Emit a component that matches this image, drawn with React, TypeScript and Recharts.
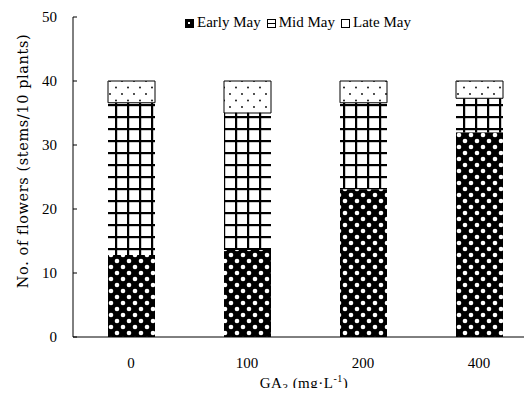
import React from "react";
import { Bar, BarChart, XAxis, YAxis } from "recharts";

const doses = ["0", "100", "200", "400"];
const earlyMay = [12.8, 13.6, 23.1, 32.0];
const midMay = [23.8, 21.4, 13.5, 5.3];
const lateMay = [3.4, 5.0, 3.4, 2.7];
const yTicks = [0, 10, 20, 30, 40, 50];

const data = doses.map((d, i) => ({ dose: d, early: earlyMay[i], mid: midMay[i], late: lateMay[i] }));

const serif = "'Liberation Serif', 'DejaVu Serif', serif";

function YLabel() {
  return (
    <text x={23} y={161} transform="rotate(-90 23 161)" textAnchor="middle" dominantBaseline="central" fontFamily="'DejaVu Serif', serif" fontSize={14.5} fill="#000" letterSpacing={0.6}>
      No. of flowers (stems/10 plants)
    </text>
  );
}

function XLabel() {
  return (
    <text x={304} y={388} textAnchor="middle" fontFamily={serif} fontSize={15} fill="#000" letterSpacing={0.5}>
      GA
      <tspan fontSize={11} dy={3}>3</tspan>
      <tspan dy={-3}> (mg·L</tspan>
      <tspan fontSize={10} dy={-6}>-1</tspan>
      <tspan dy={6}>)</tspan>
    </text>
  );
}

function LegendIcon({ kind }: { kind: string }) {
  return (
    <svg width={9} height={9} style={{ marginRight: 3, verticalAlign: "middle" }}>
      {kind === "early" && <rect x={0.5} y={0.5} width={8} height={8} fill="#000" stroke="#000" />}
      {kind === "early" && <rect x={3} y={3} width={2} height={2} fill="#fff" />}
      {kind === "mid" && <rect x={0.5} y={0.5} width={8} height={8} fill="#fff" stroke="#000" />}
      {kind === "mid" && <line x1={0} y1={4.5} x2={9} y2={4.5} stroke="#000" />}
      {kind === "late" && <rect x={0.5} y={0.5} width={8} height={8} fill="#fff" stroke="#000" />}
    </svg>
  );
}

const legendItems = [
  { kind: "early", label: "Early May" },
  { kind: "mid", label: "Mid May" },
  { kind: "late", label: "Late May" },
];

export default function App() {
  return (
    <div style={{ margin: -8, width: 532, height: 396, overflow: "hidden", position: "relative", background: "#fff" }}>
      <div style={{ position: "absolute", left: 185, top: 12, fontFamily: serif, fontSize: 15, whiteSpace: "nowrap", lineHeight: "20px" }}>
        {legendItems.map((it) => (
          <span key={it.kind} style={{ marginRight: 6 }}>
            <LegendIcon kind={it.kind} />
            {it.label}
          </span>
        ))}
      </div>
      <BarChart width={545} height={396} data={data} margin={{ top: 17, right: 8, bottom: 29, left: 0 }} barSize={47}>
        <defs>
          <pattern id="pEarly" patternUnits="userSpaceOnUse" width={12} height={12}>
            <rect width={12} height={12} fill="#000" />
            <circle cx={3} cy={3} r={2.3} fill="#fff" />
            <circle cx={9} cy={9} r={2.3} fill="#fff" />
          </pattern>
          <pattern id="pMid" patternUnits="userSpaceOnUse" width={12} height={12} x={7} y={8}>
            <rect width={12} height={12} fill="#fff" />
            <rect x={0} y={0} width={2.2} height={12} fill="#000" />
            <rect x={0} y={0} width={12} height={2.2} fill="#000" />
          </pattern>
          <pattern id="pLate" patternUnits="userSpaceOnUse" width={12} height={13}>
            <rect width={12} height={13} fill="#fff" />
            <circle cx={2} cy={3} r={0.9} fill="#000" />
            <circle cx={8} cy={9.5} r={0.9} fill="#000" />
          </pattern>
        </defs>
        <XAxis
          dataKey="dose"
          axisLine={{ stroke: "#000" }}
          tickLine={false}
          tick={{ fill: "#000", fontFamily: serif, fontSize: 15 }}
          tickMargin={14}
          height={30}
          label={<XLabel />}
        />
        <YAxis
          domain={[0, 50]}
          ticks={yTicks}
          width={73}
          axisLine={{ stroke: "#000" }}
          tickSize={-4}
          tickLine={{ stroke: "#000" }}
          tickMargin={20}
          tick={{ fill: "#000", fontFamily: serif, fontSize: 15 }}
          label={<YLabel />}
        />
        <Bar dataKey="early" stackId="a" fill="url(#pEarly)" isAnimationActive={false} />
        <Bar dataKey="mid" stackId="a" fill="url(#pMid)" isAnimationActive={false} />
        <Bar dataKey="late" stackId="a" fill="url(#pLate)" stroke="#000" strokeWidth={1} isAnimationActive={false} />
      </BarChart>
    </div>
  );
}
